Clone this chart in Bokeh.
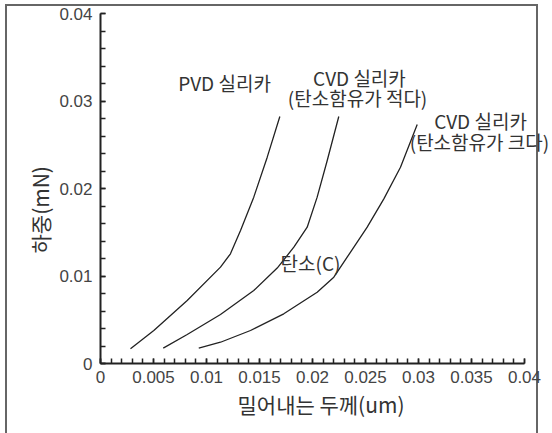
from bokeh.plotting import figure
from bokeh.models import Range1d, FixedTicker, Label, Title
from bokeh.embed import file_html
from bokeh.resources import INLINE

# Data (x: pushing depth in um, y: load in mN)
pvd_x = [0.00283, 0.00503, 0.00818, 0.01132, 0.01226, 0.01321, 0.01446, 0.01573, 0.01692]
pvd_y = [0.00168, 0.00377, 0.00720, 0.01101, 0.01254, 0.01520, 0.01901, 0.02358, 0.02823]

cvd_low_x = [0.00592, 0.00818, 0.01132, 0.01446, 0.01667, 0.01824, 0.01950, 0.02044, 0.02139, 0.02248]
cvd_low_y = [0.00175, 0.00331, 0.00560, 0.00834, 0.01091, 0.01329, 0.01558, 0.01901, 0.02320, 0.02823]

cvd_high_x = [0.00927, 0.01132, 0.01415, 0.01729, 0.02044, 0.02201, 0.02327, 0.02516, 0.02673, 0.02830, 0.02988]
cvd_high_y = [0.00175, 0.00243, 0.00377, 0.00568, 0.00815, 0.00986, 0.01215, 0.01558, 0.01882, 0.02243, 0.02731]

x_ticks = [0, 0.005, 0.01, 0.015, 0.02, 0.025, 0.03, 0.035, 0.04]
x_tick_labels = ["0", "0.005", "0.01", "0.015", "0.02", "0.025", "0.03", "0.035", "0.04"]
x_minor = [i / 1000 for i in range(0, 41)]
y_ticks = [0, 0.01, 0.02, 0.03, 0.04]
y_tick_labels = ["0", "0.01", "0.02", "0.03", "0.04"]
y_minor = [i / 500 for i in range(0, 21)]

x_title = "밀어내는 두께(um)"
y_title = "하중(mN)"

annotations = [
    ("PVD 실리카", 0.0117, 0.0321),
    ("CVD 실리카", 0.02443, 0.03269),
    ("(탄소함유가 적다)", 0.02425, 0.0304),
    ("CVD 실리카", 0.03585, 0.02777),
    ("(탄소함유가 크다)", 0.03575, 0.02537),
    ("탄소(C)", 0.01981, 0.01154),
]

W, H = 552, 433
line_bg = ("linear-gradient(#666,#666) 5px 4px / 2px 100% no-repeat, "
           "linear-gradient(#666,#666) 536px 4px / 2px 100% no-repeat, "
           "linear-gradient(#666,#666) 5px 4px / 533px 2px no-repeat, white")
p = figure(width=W, height=H, output_backend="svg", toolbar_location=None,
           x_range=Range1d(0, 0.042642), y_range=Range1d(0, 0.04),
           min_border_left=100, min_border_right=0, min_border_top=13, min_border_bottom=70,
           styles={"background": line_bg})
p.outline_line_color = None
p.grid.visible = False
p.background_fill_alpha = 0
p.border_fill_alpha = 0

tick_font = "Liberation Sans"
for ax, ticks, minor, labels in ((p.xaxis, x_ticks, x_minor, x_tick_labels),
                                 (p.yaxis, y_ticks, y_minor, y_tick_labels)):
    ax.ticker = FixedTicker(ticks=ticks, minor_ticks=minor)
    ax.bounds = (0, 0.04)
    ax.major_label_overrides = {t: l for t, l in zip(ticks, labels)}
    ax.major_tick_in = 5
    ax.major_tick_out = 0
    ax.minor_tick_in = 5
    ax.minor_tick_out = 0
    ax.axis_line_width = 2
    ax.axis_line_color = "#222"
    ax.major_tick_line_color = "#222"
    ax.minor_tick_line_color = "#222"
    ax.major_tick_line_width = 1.5
    ax.minor_tick_line_width = 1.5
    ax.major_label_text_font = tick_font
    ax.major_label_text_font_size = "17px"
    ax.major_label_text_color = "#444"
p.xaxis.major_label_standoff = 7
p.yaxis.major_label_standoff = 8

lc = "#222"
p.line(pvd_x, pvd_y, line_color=lc, line_width=1.3)
p.line(cvd_low_x, cvd_low_y, line_color=lc, line_width=1.3)
p.line(cvd_high_x, cvd_high_y, line_color=lc, line_width=1.3)

font = "Noto Sans CJK KR"
for txt, x, y in annotations:
    p.add_layout(Label(x=x, y=y, text=txt, text_align="center", text_baseline="middle",
                       text_font=font, text_font_size="19px", text_color="#333"))

p.add_layout(Title(text=x_title, align="left", offset=137, standoff=3,
                   text_font=font, text_font_size="21px", text_font_style="normal",
                   text_color="#333"), "below")
p.add_layout(Title(text=y_title, align="left", offset=110, standoff=4,
                   text_font=font, text_font_size="21px", text_font_style="normal",
                   text_color="#333"), "left")

open("out.html", "w").write(file_html(p, INLINE))
